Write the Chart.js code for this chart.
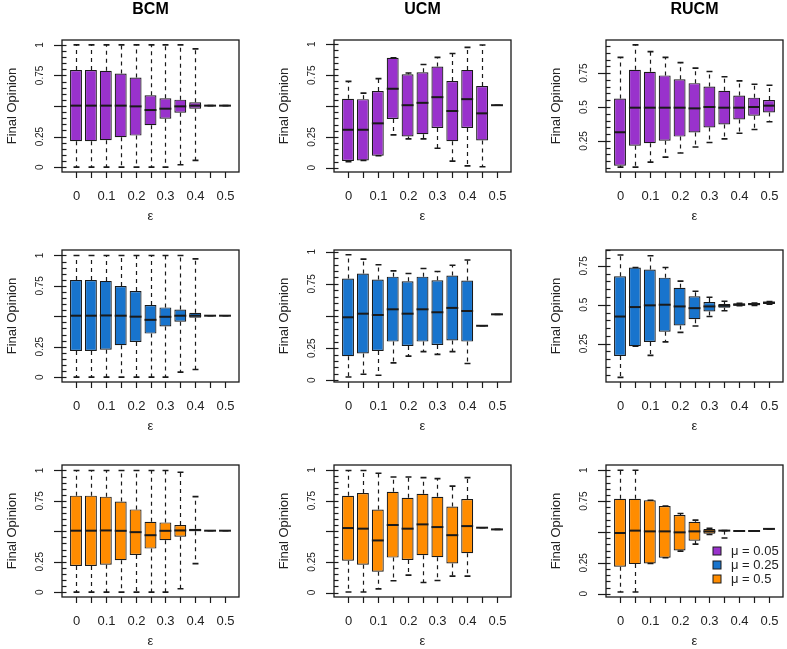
<!DOCTYPE html>
<html lang="en">
<head>
<meta charset="UTF-8">
<title>Final opinion by epsilon</title>
<script src="https://cdn.jsdelivr.net/npm/chart.js"></script>
<style>
  body { margin: 0; background: #fff; }
  #wrap { position: relative; width: 787px; height: 649px; overflow: hidden; }
  #wrap canvas { position: absolute; }
</style>
</head>
<body>
<div id="wrap"></div>
<script>
  // one box per epsilon value
  const epsLabels = ["0", "", "0.1", "", "0.2", "", "0.3", "", "0.4", "", "0.5"];

  // each row: [lower whisker, Q1, median, Q3, upper whisker]
  const bcm005 = [
    [0, 0.212, 0.503, 0.794, 1], [0, 0.212, 0.503, 0.794, 1], [0, 0.22, 0.503, 0.788, 1],
    [0, 0.245, 0.503, 0.766, 1], [0, 0.258, 0.497, 0.733, 1], [0, 0.343, 0.467, 0.588, 1],
    [0, 0.396, 0.478, 0.563, 1], [0.019, 0.445, 0.497, 0.552, 1], [0.055, 0.478, 0.503, 0.53, 0.967],
    [0.503, 0.503, 0.503, 0.503, 0.503], [0.503, 0.503, 0.503, 0.503, 0.503]
  ];
  const ucm005 = [
    [0.05, 0.055, 0.308, 0.559, 0.70], [0.06, 0.06, 0.308, 0.556, 0.605], [0.098, 0.098, 0.36, 0.621, 0.722],
    [0.267, 0.395, 0.64, 0.891, 0.891], [0.234, 0.253, 0.507, 0.757, 0.768], [0.234, 0.272, 0.526, 0.774, 0.837],
    [0.158, 0.322, 0.572, 0.82, 0.894], [0.054, 0.215, 0.46, 0.703, 0.926], [0.016, 0.322, 0.556, 0.793, 0.975],
    [0.008, 0.221, 0.441, 0.662, 0.995], [0.507, 0.507, 0.507, 0.507, 0.507]
  ];
  const rucm005 = [
    [0.057, 0.067, 0.314, 0.562, 0.866], [0.057, 0.215, 0.495, 0.775, 0.958], [0.094, 0.233, 0.495, 0.76, 0.908],
    [0.131, 0.252, 0.495, 0.733, 0.866], [0.161, 0.282, 0.495, 0.705, 0.827], [0.205, 0.312, 0.49, 0.676, 0.787],
    [0.238, 0.349, 0.5, 0.651, 0.762], [0.265, 0.371, 0.495, 0.619, 0.723], [0.307, 0.408, 0.495, 0.584, 0.693],
    [0.334, 0.436, 0.5, 0.569, 0.668], [0.391, 0.46, 0.51, 0.552, 0.661]
  ];
  const bcm025 = [
    [0, 0.215, 0.505, 0.799, 1], [0, 0.215, 0.505, 0.799, 1], [0, 0.226, 0.507, 0.791, 1],
    [0, 0.262, 0.505, 0.749, 1], [0, 0.289, 0.497, 0.708, 1], [0, 0.358, 0.471, 0.592, 1],
    [0, 0.416, 0.496, 0.573, 1], [0.041, 0.455, 0.505, 0.556, 1], [0.063, 0.488, 0.505, 0.529, 0.972],
    [0.505, 0.505, 0.505, 0.505, 0.505], [0.505, 0.505, 0.505, 0.505, 0.505]
  ];
  const ucm025 = [
    [0.026, 0.188, 0.49, 0.791, 0.976], [0.047, 0.209, 0.518, 0.83, 0.942], [0.039, 0.228, 0.508, 0.783, 0.898],
    [0.136, 0.301, 0.552, 0.806, 0.851], [0.188, 0.267, 0.518, 0.77, 0.83], [0.223, 0.301, 0.552, 0.806, 0.869],
    [0.202, 0.275, 0.529, 0.777, 0.846], [0.223, 0.309, 0.563, 0.814, 0.895], [0.131, 0.301, 0.539, 0.775, 0.935],
    [0.424, 0.424, 0.424, 0.424, 0.424], [0.513, 0.513, 0.513, 0.513, 0.513]
  ];
  const rucm025 = [
    [0.033, 0.17, 0.424, 0.683, 0.82], [0.233, 0.233, 0.485, 0.739, 0.739], [0.174, 0.261, 0.496, 0.726, 0.815],
    [0.261, 0.326, 0.5, 0.674, 0.739], [0.322, 0.367, 0.489, 0.609, 0.652], [0.363, 0.407, 0.478, 0.554, 0.587],
    [0.424, 0.457, 0.489, 0.517, 0.548], [0.461, 0.48, 0.493, 0.504, 0.522], [0.493, 0.493, 0.5, 0.509, 0.509],
    [0.496, 0.496, 0.504, 0.511, 0.511], [0.504, 0.504, 0.513, 0.52, 0.52]
  ];
  const bcm05 = [
    [0, 0.215, 0.505, 0.793, 1], [0, 0.215, 0.505, 0.793, 1], [0, 0.226, 0.507, 0.785, 1],
    [0, 0.262, 0.504, 0.744, 1], [0, 0.306, 0.493, 0.68, 1], [0, 0.358, 0.468, 0.579, 1],
    [0, 0.427, 0.504, 0.573, 1], [0.028, 0.455, 0.507, 0.551, 0.986], [0.234, 0.501, 0.51, 0.521, 0.785],
    [0.505, 0.505, 0.505, 0.505, 0.505], [0.505, 0.505, 0.505, 0.505, 0.505]
  ];
  const ucm05 = [
    [0.005, 0.26, 0.526, 0.789, 0.995], [0.005, 0.227, 0.521, 0.811, 0.995], [0.03, 0.17, 0.425, 0.677, 0.973],
    [0.096, 0.285, 0.551, 0.822, 0.942], [0.142, 0.266, 0.521, 0.773, 0.942], [0.082, 0.304, 0.556, 0.805, 0.937],
    [0.099, 0.288, 0.534, 0.781, 0.929], [0.134, 0.238, 0.468, 0.701, 0.868], [0.134, 0.321, 0.542, 0.762, 0.937],
    [0.529, 0.529, 0.529, 0.529, 0.529], [0.515, 0.515, 0.515, 0.515, 0.515]
  ];
  const rucm05 = [
    [0.014, 0.219, 0.492, 0.768, 1], [0.014, 0.24, 0.511, 0.768, 1], [0.246, 0.246, 0.505, 0.757, 0.757],
    [0.292, 0.292, 0.505, 0.71, 0.71], [0.345, 0.35, 0.497, 0.637, 0.65], [0.402, 0.429, 0.505, 0.582, 0.596],
    [0.48, 0.486, 0.505, 0.525, 0.53], [0.451, 0.511, 0.511, 0.511, 0.511], [0.508, 0.508, 0.508, 0.508, 0.508],
    [0.508, 0.508, 0.508, 0.508, 0.508], [0.525, 0.525, 0.525, 0.525, 0.525]
  ];

  const muLabels = ["\u03bc = 0.05", "\u03bc = 0.25", "\u03bc = 0.5"];
  const muColors = ["#9932CC", "#1874CD", "#FF8C00"];
  const titles = ["BCM", "UCM", "RUCM"];

  const ink = "#1a1a1a";
  const font = "'Liberation Sans', Arial, sans-serif";
  const colLeft = [62, 334, 606];
  const rowTop = [40, 250, 465];
  const pad = { left: 62, top: 40, right: 6, bottom: 58 };

  const fullLabs = [0, 0.25, 0.75, 1];
  const midLabs = [0.25, 0.5, 0.75];
  const panels = [
    { data: bcm005, mu: 0, col: 0, row: 0, y: [-0.04, 1.04], labs: fullLabs },
    { data: ucm005, mu: 0, col: 1, row: 0, y: [-0.034, 1.035], labs: fullLabs },
    { data: rucm005, mu: 0, col: 2, row: 0, y: [0.021, 0.994], labs: midLabs },
    { data: bcm025, mu: 1, col: 0, row: 1, y: [-0.04, 1.045], labs: fullLabs },
    { data: ucm025, mu: 1, col: 1, row: 1, y: [-0.013, 1.013], labs: fullLabs },
    { data: rucm025, mu: 1, col: 2, row: 1, y: [0.003, 0.852], labs: midLabs },
    { data: bcm05, mu: 2, col: 0, row: 2, y: [-0.04, 1.045], labs: fullLabs },
    { data: ucm05, mu: 2, col: 1, row: 2, y: [-0.036, 1.04], labs: fullLabs },
    { data: rucm05, mu: 2, col: 2, row: 2, y: [-0.026, 1.042], labs: fullLabs, legend: true }
  ];

  function decor(p) {
    return {
      id: "decor",
      // whiskers and staples under the boxes
      beforeDatasetsDraw(chart) {
        const ctx = chart.ctx, xs = chart.scales.x, ys = chart.scales.y;
        const bars = chart.getDatasetMeta(0).data;
        ctx.save();
        ctx.strokeStyle = ink;
        p.data.forEach((b, i) => {
          const x = Math.round(xs.getPixelForValue(i + 1)) + 0.5;
          const w = bars[i].width / 4;
          ctx.lineWidth = 1.2;
          ctx.setLineDash([4, 4]);
          ctx.beginPath();
          ctx.moveTo(x, ys.getPixelForValue(b[3]));
          ctx.lineTo(x, ys.getPixelForValue(b[4]));
          ctx.moveTo(x, ys.getPixelForValue(b[1]));
          ctx.lineTo(x, ys.getPixelForValue(b[0]));
          ctx.stroke();
          ctx.setLineDash([]);
          ctx.lineWidth = 1.6;
          ctx.beginPath();
          [b[0], b[4]].forEach(v => {
            const y = ys.getPixelForValue(v);
            ctx.moveTo(x - w, y);
            ctx.lineTo(x + w, y);
          });
          ctx.stroke();
        });
        ctx.restore();
      },
      // medians on top of the boxes
      afterDatasetsDraw(chart) {
        const ctx = chart.ctx, xs = chart.scales.x, ys = chart.scales.y;
        const bars = chart.getDatasetMeta(0).data;
        ctx.save();
        ctx.strokeStyle = ink;
        ctx.lineWidth = 2;
        p.data.forEach((b, i) => {
          const x = xs.getPixelForValue(i + 1);
          const w = bars[i].width / 2;
          const y = ys.getPixelForValue(b[2]);
          ctx.beginPath();
          ctx.moveTo(x - w, y);
          ctx.lineTo(x + w, y);
          ctx.stroke();
        });
        ctx.restore();
      },
      afterDraw(chart) {
        const ctx = chart.ctx, xs = chart.scales.x, ys = chart.scales.y;
        const a = chart.chartArea;
        ctx.save();
        ctx.strokeStyle = ink;
        ctx.fillStyle = "#222";
        ctx.lineWidth = 1.3;
        ctx.strokeRect(a.left, a.top, a.right - a.left, a.bottom - a.top);

        // x ticks and labels
        ctx.lineWidth = 1.2;
        ctx.font = "13px " + font;
        ctx.textAlign = "center";
        ctx.textBaseline = "middle";
        epsLabels.forEach((lab, i) => {
          const x = Math.round(xs.getPixelForValue(i + 1)) + 0.5;
          ctx.beginPath();
          ctx.moveTo(x, a.bottom);
          ctx.lineTo(x, a.bottom + 6);
          ctx.stroke();
          if (lab) ctx.fillText(lab, x, a.bottom + 24);
        });
        ctx.fillText("\u03b5", (a.left + a.right) / 2, a.bottom + 44);

        // y ticks: major every 0.25, minor every 0.05
        for (let k = 0; k <= 20; k++) {
          const v = k * 0.05;
          if (v < ys.min || v > ys.max) continue;
          const y = Math.round(ys.getPixelForValue(v)) + 0.5;
          const major = k % 5 === 0;
          ctx.beginPath();
          ctx.moveTo(a.left - (major ? 8 : 0), y);
          ctx.lineTo(a.left + 4.5, y);
          ctx.stroke();
        }
        ctx.font = "10px " + font;
        p.labs.forEach(v => {
          const y = ys.getPixelForValue(v);
          ctx.save();
          ctx.translate(a.left - 22, y);
          ctx.rotate(-Math.PI / 2);
          ctx.fillText(String(v), 0, 0);
          ctx.restore();
        });

        ctx.font = "13px " + font;
        ctx.save();
        ctx.translate(a.left - 50, (a.top + a.bottom) / 2);
        ctx.rotate(-Math.PI / 2);
        ctx.fillText("Final Opinion", 0, 0);
        ctx.restore();

        if (p.row === 0) {
          ctx.font = "bold 16px " + font;
          ctx.fillStyle = "#000";
          ctx.fillText(titles[p.col], (a.left + a.right) / 2, a.top - 30);
        }

        if (p.legend) {
          ctx.font = "13px " + font;
          ctx.textAlign = "left";
          muLabels.forEach((lab, j) => {
            const cy = a.top + 86 + j * 14;
            ctx.fillStyle = muColors[j];
            ctx.fillRect(a.left + 107, cy - 4, 8, 8);
            ctx.lineWidth = 1;
            ctx.strokeRect(a.left + 107, cy - 4, 8, 8);
            ctx.fillStyle = "#222";
            ctx.fillText(lab, a.left + 125, cy);
          });
        }
        ctx.restore();
      }
    };
  }

  const wrap = document.getElementById("wrap");
  panels.forEach(p => {
    const cv = document.createElement("canvas");
    cv.width = 245;
    cv.height = 230;
    cv.style.left = (colLeft[p.col] - pad.left) + "px";
    cv.style.top = (rowTop[p.row] - pad.top) + "px";
    wrap.appendChild(cv);

    new Chart(cv, {
      type: "bar",
      data: {
        datasets: [{
          data: p.data.map((b, i) => ({ x: i + 1, y: [b[1], b[3]] })),
          backgroundColor: muColors[p.mu],
          borderColor: ink,
          borderWidth: 1.2,
          borderSkipped: false,
          barPercentage: 0.8,
          categoryPercentage: 1
        }]
      },
      options: {
        responsive: false,
        animation: false,
        events: [],
        layout: { padding: pad },
        scales: {
          x: { type: "linear", min: 0.06, max: 11.94, offset: false, display: false },
          y: { min: p.y[0], max: p.y[1], display: false }
        },
        plugins: { legend: { display: false }, tooltip: { enabled: false } }
      },
      plugins: [decor(p)]
    });
  });
</script>
</body>
</html>
